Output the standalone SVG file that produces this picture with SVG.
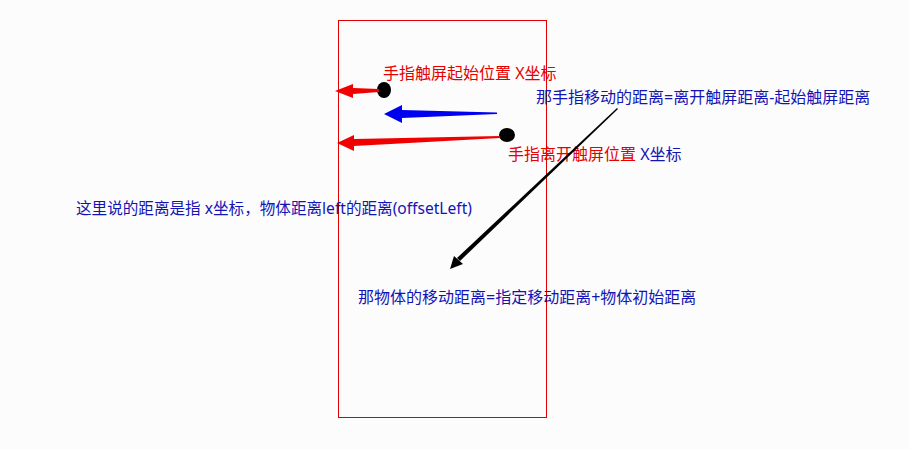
<svg xmlns="http://www.w3.org/2000/svg" width="909" height="449" viewBox="0 0 909 449">
<style>
text{font-family:"Noto Sans","Noto Sans CJK SC",sans-serif;font-size:16px}
.r{fill:#e60000}
.b{fill:#1414b4}
</style>
<rect width="909" height="449" fill="#fcfcfd"/>
<g id="screen"><rect x="338.5" y="20.5" width="208" height="397" fill="none" stroke="#e00000" stroke-width="1"/></g>
<g id="start-dot"><ellipse cx="384" cy="90" rx="7" ry="8" fill="#000"/></g>
<g id="end-dot"><ellipse cx="507" cy="135" rx="8" ry="7" fill="#000"/></g>
<g id="label-start"><text x="383" y="79" class="r">手指触屏起始位置 X坐标</text></g>
<g id="label-finger"><text x="536" y="103" class="b">那手指移动的距离=离开触屏距离-起始触屏距离</text></g>
<g id="label-end"><text x="508" y="160"><tspan class="r">手指离开触屏位置</tspan><tspan class="b"> X坐标</tspan></text></g>
<g id="label-note"><text x="76" y="214" class="b" textLength="396" lengthAdjust="spacingAndGlyphs">这里说的距离是指 x坐标，物体距离left的距离(offsetLeft)</text></g>
<g id="label-object"><text x="358" y="303" class="b">那物体的移动距离=指定移动距离+物体初始距离</text></g>
<g id="connectors">
<polygon points="335,91 353,84 353,88 379,89 379,92 353,94 353,98" fill="#f00000"/>
<polygon points="384,114 402,105 402,110 497,112.5 497,114 402,118 402,123" fill="#0000f0"/>
<polygon points="337,143 354,135 354,139 500,136 500,138 354,146 354,151" fill="#f00000"/>
<polygon points="617,108 618,109 460,261 457,258" fill="#000"/>
<polygon points="450,269 454,256 463,264" fill="#000"/>
</g>
</svg>
